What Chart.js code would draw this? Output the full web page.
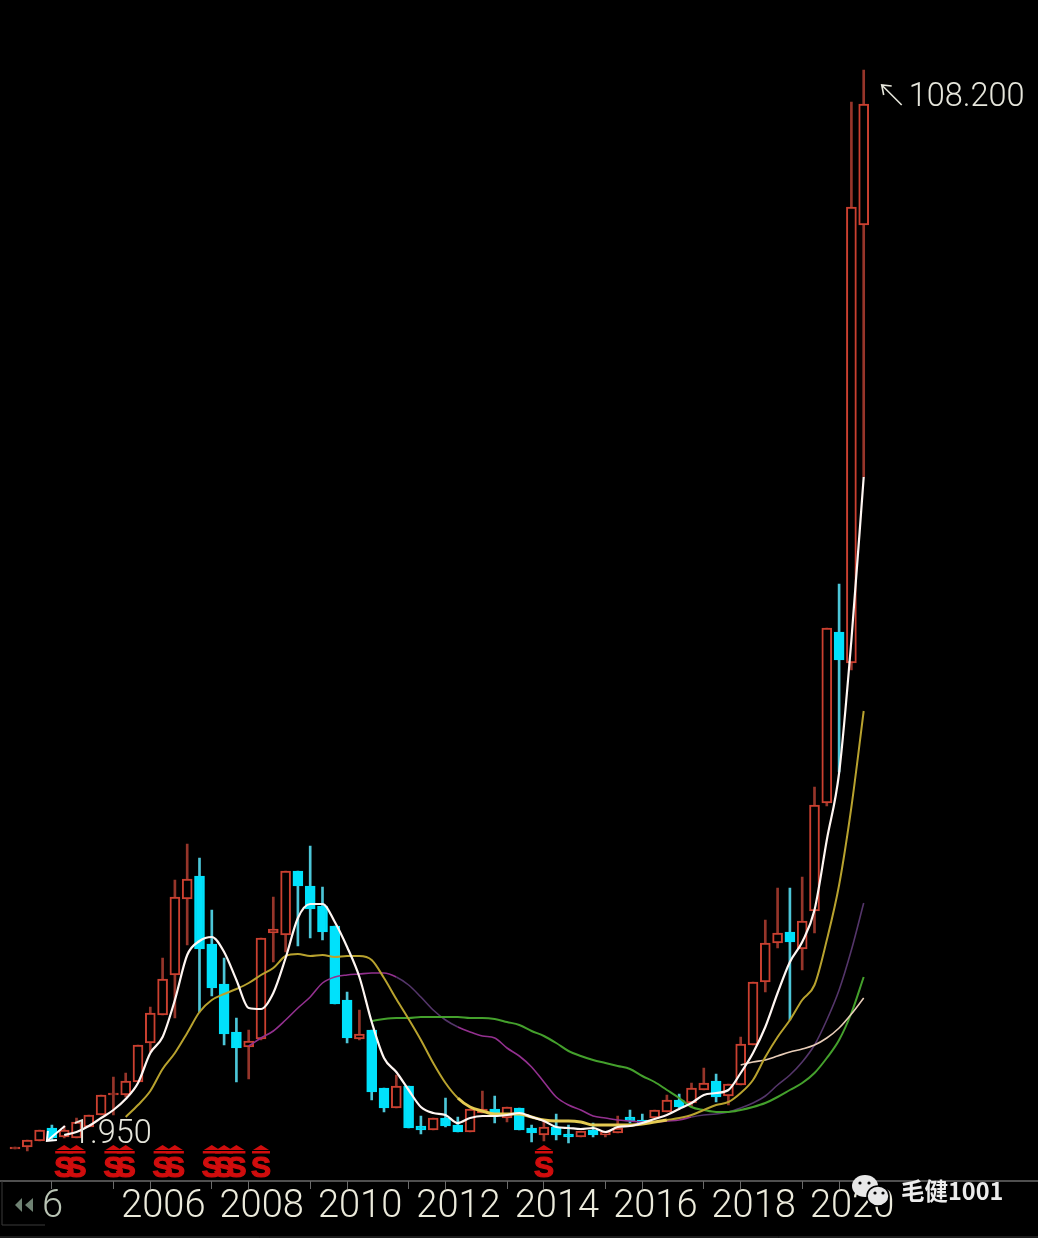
<!DOCTYPE html>
<html>
<head>
<meta charset="utf-8">
<title>Quarterly candles</title>
<script src="https://cdn.jsdelivr.net/npm/chart.js@4"></script>
<style>
  html, body { margin: 0; padding: 0; background: #000; }
  canvas { display: block; }
</style>
</head>
<body>
<canvas id="klineChart" width="1038" height="1238"></canvas>
<script>
// Quarterly bars
const categories = [
  "2003Q2", "2003Q3", "2003Q4",
  "2004Q1", "2004Q2", "2004Q3", "2004Q4", "2005Q1", "2005Q2", "2005Q3", "2005Q4",
  "2006Q1", "2006Q2", "2006Q3", "2006Q4", "2007Q1", "2007Q2", "2007Q3", "2007Q4",
  "2008Q1", "2008Q2", "2008Q3", "2008Q4", "2009Q1", "2009Q2", "2009Q3", "2009Q4",
  "2010Q1", "2010Q2", "2010Q3", "2010Q4", "2011Q1", "2011Q2", "2011Q3", "2011Q4",
  "2012Q1", "2012Q2", "2012Q3", "2012Q4", "2013Q1", "2013Q2", "2013Q3", "2013Q4",
  "2014Q1", "2014Q2", "2014Q3", "2014Q4", "2015Q1", "2015Q2", "2015Q3", "2015Q4",
  "2016Q1", "2016Q2", "2016Q3", "2016Q4", "2017Q1", "2017Q2", "2017Q3", "2017Q4",
  "2018Q1", "2018Q2", "2018Q3", "2018Q4", "2019Q1", "2019Q2", "2019Q3", "2019Q4",
  "2020Q1", "2020Q2", "2020Q3",
];

const opens = [
  0.3, 0.5, 1.1, 2.4, 1.5, 1.4, 2.5, 3.7, 5.7, 5.7,
  7.0, 10.9, 13.7, 17.7, 25.3, 27.6, 20.8, 16.8, 12.0, 10.5,
  11.3, 21.9, 21.7, 28.1, 26.6, 24.6, 22.6, 15.2, 11.3, 12.2,
  6.4, 4.4, 6.6, 2.6, 2.2, 3.4, 2.7, 2.0, 3.9, 4.3,
  3.4, 4.4, 2.4, 1.7, 2.5, 1.8, 1.5, 2.2, 1.7, 1.9,
  3.5, 3.2, 3.4, 4.0, 5.2, 4.9, 6.2, 7.1, 5.6, 6.7,
  10.7, 17.0, 20.9, 22.0, 20.3, 24.1, 34.9, 52.0, 48.9, 92.7,
];
const closes = [
  0.5, 1.2, 2.2, 1.4, 2.2, 3.0, 3.7, 5.7, 5.9, 7.1,
  10.7, 13.9, 17.3, 25.5, 27.3, 20.3, 16.4, 11.8, 10.4, 11.1,
  21.4, 22.3, 28.1, 26.6, 24.3, 22.0, 14.8, 11.4, 11.8, 6.0,
  4.4, 6.6, 2.4, 2.2, 3.4, 2.6, 2.0, 4.3, 4.3, 3.6,
  4.5, 2.2, 1.9, 2.5, 1.7, 1.5, 2.1, 1.7, 2.0, 2.4,
  3.1, 2.9, 4.2, 5.2, 4.5, 6.4, 6.9, 5.5, 6.8, 10.8,
  17.0, 20.9, 21.9, 21.0, 23.1, 34.7, 52.4, 49.2, 94.5, 104.8,
];
const highs = [
  0.5, 1.2, 2.2, 2.7, 2.6, 3.4, 3.7, 5.7, 7.5, 7.9,
  10.7, 14.5, 19.4, 27.2, 30.8, 29.4, 24.2, 19.4, 13.4, 12.2,
  21.4, 25.5, 28.1, 28.1, 30.6, 26.5, 22.6, 16.0, 14.2, 12.2,
  6.4, 7.7, 6.6, 3.6, 3.4, 5.4, 3.5, 4.3, 6.1, 5.6,
  4.5, 4.4, 2.7, 3.2, 3.8, 2.7, 2.1, 2.9, 2.0, 3.6,
  4.2, 3.8, 4.2, 5.7, 5.8, 6.9, 8.4, 7.8, 6.8, 11.5,
  17.0, 23.2, 26.4, 26.4, 27.5, 36.5, 52.4, 56.8, 105.0, 108.2,
];
const lows = [
  0.3, 0.1, 1.1, 1.2, 1.4, 1.4, 2.5, 3.7, 3.7, 5.5,
  7.0, 10.0, 13.7, 13.4, 20.7, 14.0, 15.6, 10.7, 7.0, 7.3,
  11.2, 19.0, 20.0, 20.6, 21.4, 21.2, 14.8, 10.9, 11.2, 5.2,
  4.0, 4.4, 2.4, 1.8, 2.2, 2.5, 2.0, 2.0, 3.9, 2.9,
  3.0, 2.2, 1.0, 1.1, 1.2, 0.9, 1.5, 1.5, 1.5, 1.9,
  2.9, 2.9, 3.4, 4.0, 4.4, 4.5, 6.2, 5.0, 4.7, 6.7,
  10.7, 16.0, 20.4, 13.2, 18.2, 21.9, 34.6, 38.0, 48.2, 67.5,
];

// Moving average lines
const maWhite = [
  null, null, null, null, 1.7, 2.0, 2.6, 3.4, 4.2, 5.3,
  6.9, 9.9, 11.5, 15.2, 19.7, 21.1, 21.5, 20.0, 17.2, 14.4,
  14.3, 15.9, 19.4, 23.4, 24.8, 24.8, 23.0, 20.5, 17.5, 13.0,
  9.4, 8.0, 6.2, 4.5, 3.9, 3.7, 2.9, 3.4, 3.6, 3.6,
  3.7, 3.9, 3.5, 3.1, 2.5, 2.4, 2.3, 2.4, 2.0, 2.5,
  2.6, 2.9, 3.3, 3.7, 4.3, 4.9, 5.7, 5.9, 6.2, 7.9,
  9.9, 12.5, 15.9, 19.0, 21.0, 24.2, 31.2, 37.9, 51.2, 67.5,
];
const maYellow = [
  null, null, null, null, null, null, null, null, null, 3.5,
  4.7, 6.1, 8.3, 9.9, 11.9, 14.0, 15.2, 15.8, 16.3, 16.9,
  17.7, 18.4, 19.6, 19.8, 19.6, 19.7, 19.5, 19.6, 19.6, 19.2,
  17.4, 15.3, 13.3, 11.2, 8.9, 6.9, 5.4, 4.5, 4.1, 3.8,
  3.8, 3.8, 3.5, 3.2, 3.1, 3.1, 3.0, 2.7, 2.7, 2.7,
  2.7, 2.8, 3.0, 3.2, 3.4, 3.7, 4.2, 4.7, 5.0, 5.9,
  7.2, 9.5, 11.5, 13.2, 15.2, 16.7, 21.2, 26.7, 34.5, 44.1,
];
const maPurple = [
  null, null, null, null, null, null, null, null, null, null,
  null, null, null, null, null, null, null, null, null, 10.6,
  11.4, 12.1, 13.2, 14.4, 15.5, 16.9, 17.5, 17.7, 17.8, 17.9,
  17.9, 17.5, 16.7, 15.5, 14.2, 13.2, 12.5, 12.0, 11.6, 11.4,
  10.4, 9.6, 8.5, 7.0, 5.5, 4.7, 4.2, 3.6, 3.4, 3.2,
  3.1, 3.0, 3.0, 3.1, 3.2, 3.5, 3.7, 3.8, 4.0, 4.4,
  4.9, 5.6, 6.7, 7.7, 9.0, 10.7, 13.2, 16.2, 20.2, 24.9,
];
const maGreen = [
  null, null, null, null, null, null, null, null, null, null,
  null, null, null, null, null, null, null, null, null, null,
  null, null, null, null, null, null, null, null, null, 13.1,
  13.3, 13.4, 13.4, 13.5, 13.5, 13.5, 13.5, 13.4, 13.4, 13.3,
  13.0, 12.7, 12.1, 11.6, 10.9, 10.1, 9.6, 9.2, 8.9, 8.6,
  8.3, 7.6, 7.0, 6.2, 5.4, 4.5, 4.2, 4.0, 4.0, 4.2,
  4.5, 4.9, 5.5, 6.2, 6.9, 7.9, 9.4, 11.2, 13.9, 17.5,
];
const maPale = [
  null, null, null, null, null, null, null, null, null, null,
  null, null, null, null, null, null, null, null, null, null,
  null, null, null, null, null, null, null, null, null, null,
  null, null, null, null, null, null, null, null, null, null,
  null, null, null, null, null, null, null, null, null, null,
  null, null, null, null, null, null, null, null, null, 8.7,
  9.0, 9.2, 9.6, 10.0, 10.3, 10.7, 11.4, 12.4, 13.8, 15.4,
];

// Axis labels and markers
const tickLabelIndex = [2, 11, 19, 27, 35, 43, 51, 59, 67];
const tickLabels = ["6", "2006", "2008", "2010", "2012", "2014", "2016", "2018", "2020"];
const tickMarkIndex = [3, 8, 11, 16, 19, 24, 27, 32, 35, 40, 43, 48, 51, 56, 59, 64, 67];
const signalIndex = [4, 5, 8, 9, 12, 13, 16, 17, 18, 20, 43];
const highText = "108.200";
const lowText = "1.950";
const watermark = "毛健1001";

const RED = "#cb4030";
const RED_WICK = "#96352a";
const CYAN = "#00e1fb";
const CYAN_WICK = "#4cc6d8";

const isUp = (i) => closes[i] >= opens[i];

function arrow(ctx, x1, y1, x2, y2, b1x, b1y, b2x, b2y) {
  ctx.beginPath();
  ctx.moveTo(x2, y2);
  ctx.lineTo(x1, y1);
  ctx.moveTo(b1x, b1y);
  ctx.lineTo(x1, y1);
  ctx.lineTo(b2x, b2y);
  ctx.stroke();
}

const annotations = {
  id: "annotations",
  afterDatasetsDraw(chart) {
    const { ctx } = chart;
    const x = chart.scales.x;
    const y = chart.scales.y;
    ctx.save();

    // High and low labels
    const last = categories.length - 1;
    const hx = x.getPixelForValue(last);
    const hy = y.getPixelForValue(highs[last]);
    const lx = x.getPixelForValue(3);
    const ly = y.getPixelForValue(lows[3]);
    ctx.fillStyle = "#e6e6dc";
    ctx.strokeStyle = "#e6e6dc";
    ctx.lineWidth = 1.6;
    ctx.font = "300 32.5px Roboto";
    ctx.textBaseline = "alphabetic";
    ctx.fillText(highText, hx + 45, hy + 36);
    arrow(ctx, hx + 18, hy + 15, hx + 38, hy + 35, hx + 28, hy + 16, hx + 20, hy + 25);
    ctx.fillText(lowText, lx + 20, ly + 3);
    ctx.strokeStyle = "#ffffff";
    ctx.lineWidth = 2;
    arrow(ctx, lx - 5, ly + 1, lx + 13, ly - 14, lx + 5, ly, lx - 4, ly - 9);

    // Red S signals
    ctx.fillStyle = "#d00d0d";
    ctx.strokeStyle = "#d00d0d";
    ctx.lineWidth = 1.2;
    ctx.font = "bold 30px 'Liberation Sans'";
    ctx.textAlign = "center";
    const base = chart.chartArea.bottom;
    signalIndex.forEach((idx) => {
      const sx = x.getPixelForValue(idx);
      ctx.beginPath();
      ctx.moveTo(sx - 8, base - 31);
      ctx.lineTo(sx, base - 36);
      ctx.lineTo(sx + 8, base - 31);
      ctx.closePath();
      ctx.fill();
      ctx.fillRect(sx - 9, base - 30, 18, 2.5);
      ctx.fillText("S", sx, base - 4);
      ctx.strokeText("S", sx, base - 4);
    });
    ctx.restore();
  },
  afterDraw(chart) {
    const { ctx, width } = chart;
    const base = chart.chartArea.bottom;
    ctx.save();

    // Axis line runs the full width, plus the small box at the left
    ctx.strokeStyle = "#6a6a6a";
    ctx.lineWidth = 1.5;
    ctx.beginPath();
    ctx.moveTo(0, base);
    ctx.lineTo(width, base);
    ctx.stroke();
    ctx.strokeStyle = "#3a3a3a";
    ctx.lineWidth = 1;
    ctx.beginPath();
    ctx.moveTo(2, base);
    ctx.lineTo(2, base + 44);
    ctx.lineTo(45, base + 44);
    ctx.moveTo(0, base + 56);
    ctx.lineTo(width, base + 56);
    ctx.stroke();

    // Rewind arrows
    ctx.fillStyle = "#6f8273";
    [[22, 15], [33, 25]].forEach(([right, left]) => {
      ctx.beginPath();
      ctx.moveTo(right, base + 17);
      ctx.lineTo(left, base + 24);
      ctx.lineTo(right, base + 31);
      ctx.closePath();
      ctx.fill();
    });

    // Watermark
    ctx.fillStyle = "#e8e8e8";
    ctx.beginPath();
    ctx.ellipse(865, 1186, 13, 11, 0, 0, Math.PI * 2);
    ctx.fill();
    ctx.strokeStyle = "#000";
    ctx.lineWidth = 1.5;
    ctx.beginPath();
    ctx.ellipse(878, 1196, 11, 10, 0, 0, Math.PI * 2);
    ctx.fill();
    ctx.stroke();
    ctx.fillStyle = "#000";
    [[860, 1183], [869, 1183], [875, 1193], [883, 1193]].forEach(([ex, ey]) => {
      ctx.beginPath();
      ctx.arc(ex, ey, 1.6, 0, Math.PI * 2);
      ctx.fill();
    });
    ctx.fillStyle = "#ececec";
    ctx.font = "bold 23.5px 'Noto Sans CJK SC'";
    ctx.fillText(watermark, 901, 1200);
    ctx.restore();
  },
};

const maLine = (data, color, width, order, segment) => ({
  type: "line",
  data: data,
  borderColor: color,
  borderWidth: width,
  pointRadius: 0,
  cubicInterpolationMode: "monotone",
  order: order,
  segment: segment,
});

new Chart(document.getElementById("klineChart"), {
  data: {
    labels: categories,
    datasets: [
      maLine(maWhite, "#fff6f2", 2.2, 0),
      maLine(maYellow, "#b8a22e", 2, 1, {
        // Yellow runs brighter and thicker where it flattens out
        borderColor: (c) => (c.p0DataIndex >= 36 && c.p0DataIndex <= 52 ? "#e4ca52" : undefined),
        borderWidth: (c) => (c.p0DataIndex >= 36 && c.p0DataIndex <= 52 ? 3 : undefined),
      }),
      maLine(maPale, "#e8cdb8", 1.6, 2),
      maLine(maGreen, "#44a02c", 2, 3),
      maLine(maPurple, "#93308f", 1.6, 4, {
        borderColor: (c) =>
          (c.p0DataIndex >= 31 && c.p0DataIndex <= 35) || c.p0DataIndex >= 55 ? "#54356a" : undefined,
      }),
      {
        type: "bar",
        data: opens.map((o, i) => [o, closes[i]]),
        backgroundColor: (c) => (isUp(c.dataIndex) ? "#000" : CYAN),
        borderColor: (c) => (isUp(c.dataIndex) ? RED : CYAN),
        borderWidth: 2,
        borderSkipped: false,
        barThickness: 10,
        grouped: false,
        order: 5,
      },
      {
        type: "bar",
        data: lows.map((l, i) => [l, highs[i]]),
        backgroundColor: (c) => (isUp(c.dataIndex) ? RED_WICK : CYAN_WICK),
        borderWidth: 0,
        barThickness: 2,
        grouped: false,
        order: 6,
      },
    ],
  },
  options: {
    responsive: false,
    animation: false,
    layout: { padding: { left: 8.85, right: 168.15, top: 0, bottom: 0 } },
    plugins: {
      legend: { display: false },
      tooltip: { enabled: false },
    },
    scales: {
      x: {
        type: "category",
        offset: true,
        afterFit: (scale) => {
          scale.height = 57;
        },
        border: { display: false },
        grid: {
          offset: false,
          drawOnChartArea: false,
          tickLength: 8,
          tickWidth: 1,
          tickColor: (c) => (tickMarkIndex.includes(c.index) ? "#6a6a6a" : "transparent"),
        },
        ticks: {
          autoSkip: false,
          maxRotation: 0,
          minRotation: 0,
          padding: -4,
          labelOffset: 13,
          color: (c) => (c.index === tickLabelIndex[0] ? "#b9c4b4" : "#ecebdc"),
          font: { family: "Roboto", size: 38, weight: "300" },
          callback: (value, index) => {
            const pos = tickLabelIndex.indexOf(index);
            return pos >= 0 ? tickLabels[pos] : "";
          },
        },
      },
      y: {
        display: false,
        min: -2.9,
        max: 115.2,
      },
    },
  },
  plugins: [annotations],
});
</script>
</body>
</html>
